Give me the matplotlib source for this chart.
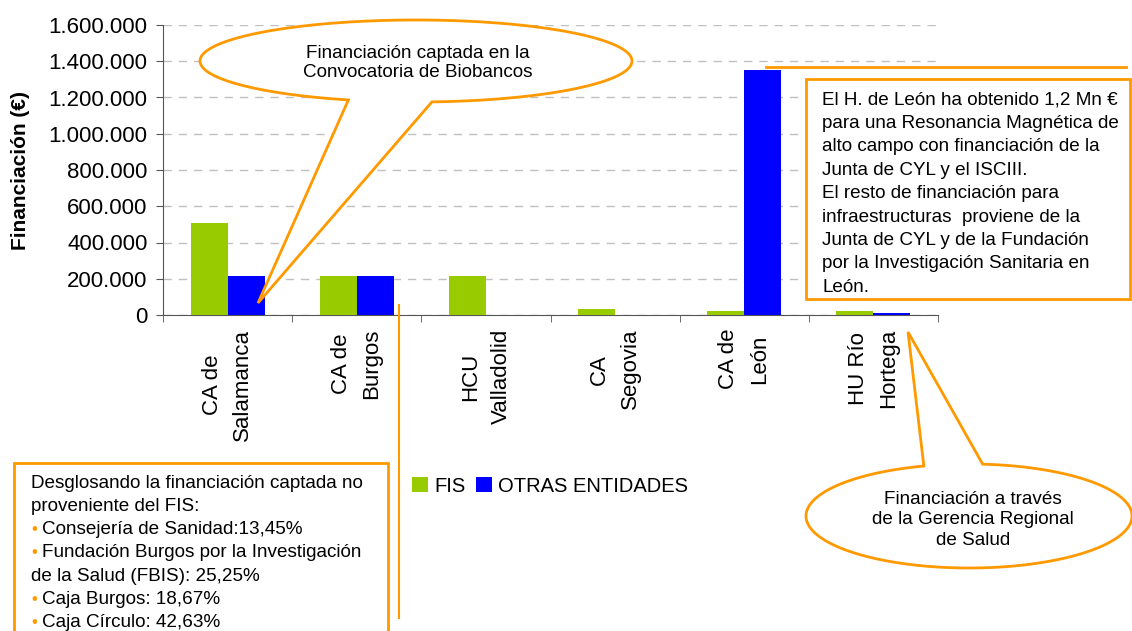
import matplotlib
matplotlib.use('Agg')
import matplotlib.pyplot as plt
import numpy as np
from matplotlib.path import Path
from matplotlib.patches import PathPatch, Rectangle
from matplotlib.ticker import FuncFormatter, FixedLocator

plt.rcParams['font.family'] = ['Liberation Sans', 'DejaVu Sans']

categories = ['CA de\nSalamanca', 'CA de\nBurgos', 'HCU\nValladolid',
              'CA\nSegovia', 'CA de\nLeón', 'HU Río\nHortega']
fis = [508000, 215000, 215000, 33000, 20000, 20000]
otras = [215000, 215000, 0, 0, 1352000, 10000]
yticks = [0, 200000, 400000, 600000, 800000, 1000000, 1200000, 1400000, 1600000]

GREEN = '#99CC00'
BLUE = '#0000FF'
ORANGE = '#FF9900'
FS = 13.6  # callout text size

W, H = 1132, 631
fig = plt.figure(figsize=(W / 100, H / 100), dpi=100)
ax = fig.add_axes([163 / W, 1 - 315 / H, 775 / W, 290 / H])

x = np.arange(len(categories))
bw = 0.286
b1 = ax.bar(x - bw / 2, fis, bw, color=GREEN, label='FIS', zorder=3)
b2 = ax.bar(x + bw / 2, otras, bw, color=BLUE, label='OTRAS ENTIDADES', zorder=3)

ax.set_xlim(-0.5, len(categories) - 0.5)
ax.set_ylim(0, 1600000)
ax.set_yticks(yticks)
ax.yaxis.set_major_formatter(FuncFormatter(lambda v, p: f'{int(v):,}'.replace(',', '.')))
ax.set_xticks(x)
ax.set_xticklabels(categories, rotation=90, ha='center', va='top',
                   multialignment='center', linespacing=1.6, fontsize=16)
ax.xaxis.set_minor_locator(FixedLocator(np.arange(-0.5, len(categories), 1.0)))
ax.tick_params(axis='x', which='major', length=0, pad=10)
ax.tick_params(axis='x', which='minor', length=5, color='#555555')
ax.tick_params(axis='y', length=5, color='#555555', labelsize=16, pad=6)
ax.grid(axis='y', color='#c0c0c0', linestyle=(0, (6, 5)), linewidth=1, zorder=0)
for s in ['top', 'right']:
    ax.spines[s].set_visible(False)
for s in ['left', 'bottom']:
    ax.spines[s].set_color('#555555')
ax.set_ylabel('Financiación (€)', fontsize=15, fontweight='bold')
ax.yaxis.set_label_coords(-0.172, 0.5)

fig.legend(handles=[b1, b2], loc='center left', bbox_to_anchor=(404 / W, 1 - 486 / H),
           ncol=2, frameon=False, fontsize=14.5, handlelength=0.8, handleheight=0.8,
           handletextpad=0.3, columnspacing=0.5, borderaxespad=0)

# overlay in pixel coordinates for callouts
ov = fig.add_axes([0, 0, 1, 1], zorder=10)
ov.set_xlim(0, W)
ov.set_ylim(H, 0)
ov.axis('off')
ov.patch.set_alpha(0)


def callout(cx, cy, w, h, pa, pb, tip):
    a, b = w / 2, h / 2
    ta = np.arctan2((pa[1] - cy) / b, (pa[0] - cx) / a)
    tb = np.arctan2((pb[1] - cy) / b, (pb[0] - cx) / a)
    lo, hi = min(ta, tb), max(ta, tb)
    t = np.linspace(hi, lo + 2 * np.pi, 300)
    pts = np.column_stack([cx + a * np.cos(t), cy + b * np.sin(t)])
    pts = np.vstack([pts, tip, pts[0]])
    codes = [Path.MOVETO] + [Path.LINETO] * (len(pts) - 2) + [Path.CLOSEPOLY]
    ov.add_patch(PathPatch(Path(pts, codes), facecolor='white', edgecolor=ORANGE, lw=2))


callout(416, 61, 432, 82, (350, 99), (432, 102), (258, 303))
ov.text(418, 63, 'Financiación captada en la\nConvocatoria de Biobancos', ha='center',
        va='center', fontsize=FS, linespacing=1.2)

callout(969, 516, 326, 104, (922, 464), (983, 463), (908, 332))
ov.text(973, 520, 'Financiación a través\nde la Gerencia Regional\nde Salud', ha='center',
        va='center', fontsize=FS, linespacing=1.3)

# León box
ov.plot([766, 1126], [67, 67], color=ORANGE, lw=2)
ov.add_patch(Rectangle((806, 79), 324, 220, facecolor='white', edgecolor=ORANGE, lw=2))
leon_lines = ['El H. de León ha obtenido 1,2 Mn €', 'para una Resonancia Magnética de',
              'alto campo con financiación de la', 'Junta de CYL y el ISCIII.',
              'El resto de financiación para', 'infraestructuras  proviene de la',
              'Junta de CYL y de la Fundación', 'por la Investigación Sanitaria en', 'León.']
for i, s in enumerate(leon_lines):
    ov.text(822, 100 + i * 23.4, s, ha='left', va='center', fontsize=FS)

# Burgos box
ov.plot([399, 399], [305, 618], color=ORANGE, lw=1.5)
ov.add_patch(Rectangle((14, 463), 374, 180, facecolor='white', edgecolor=ORANGE, lw=2,
                       clip_on=False))
burgos_lines = [('', 'Desglosando la financiación captada no'), ('', 'proveniente del FIS:'),
                ('•', 'Consejería de Sanidad:13,45%'),
                ('•', 'Fundación Burgos por la Investigación'),
                ('', 'de la Salud (FBIS): 25,25%'), ('•', 'Caja Burgos: 18,67%'),
                ('•', 'Caja Círculo: 42,63%')]
for i, (bul, s) in enumerate(burgos_lines):
    y = 483 + i * 23.3
    if bul:
        ov.text(31, y, bul, ha='left', va='center', fontsize=12, color=ORANGE)
        ov.text(42, y, s, ha='left', va='center', fontsize=FS)
    else:
        ov.text(31, y, s, ha='left', va='center', fontsize=FS)

fig.savefig('out.png', dpi=100)
